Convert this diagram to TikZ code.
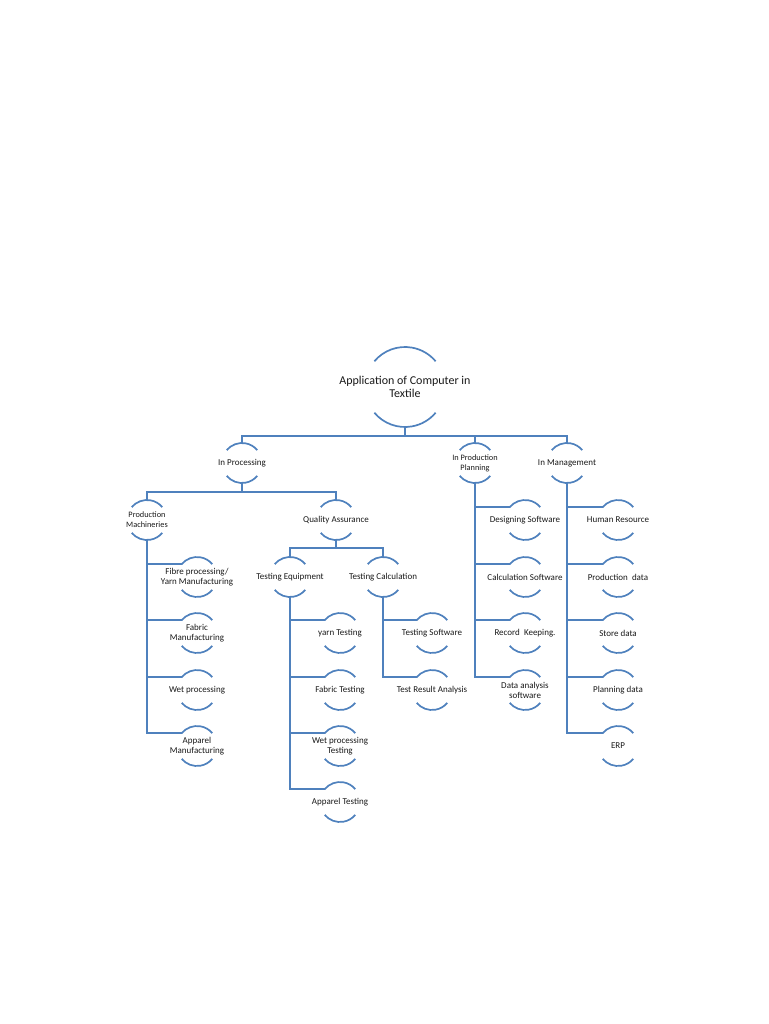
\documentclass[tikz,border=0pt]{standalone}
\usepackage{fontspec}
\setmainfont{Carlito}
\definecolor{blu}{HTML}{4F81BD}
\begin{document}
\begin{tikzpicture}[x=1pt, y=1pt, line width=1.7pt,
    linea/.style={draw=blu},
    bolla/.style={circle, minimum size=40pt, inner sep=0pt, outer sep=0pt},
    grande/.style={bolla, minimum size=80pt},
    testo/.style={align=center, font=\fontsize{9}{10}\selectfont, text=black!90},
    piccolo/.style={testo, font=\fontsize{8.3}{10}\selectfont}]

    \useasboundingbox (0,0) rectangle (768,-1024);

    % archi sopra e sotto ogni voce
    \newcommand{\archi}[2]{
        \draw[linea] (#1.140) arc[start angle=140, end angle=40, radius=#2];
        \draw[linea] (#1.220) arc[start angle=220, end angle=320, radius=#2];
    }

    % -- Titolo --
    \node[grande, label={[testo, font=\fontsize{12}{12.5}\selectfont]center:Application of Computer in\\Textile}] (tit) at (405,-387) {};

    % -- Primo livello --
    \node[bolla, label={[testo]center:In Processing}] (proc) at (242,-463) {};
    \node[bolla, label={[piccolo]center:In Production\\Planning}] (plan) at (475,-463) {};
    \node[bolla, label={[testo]center:In Management}] (mgmt) at (567,-463) {};

    % -- In Processing --
    \node[bolla, label={[piccolo]center:Production\\Machineries}] (mach) at (147,-520) {};
    \node[bolla, label={[testo]center:Quality Assurance}] (qa) at (336,-520) {};
    \node[bolla, label={[testo]center:Testing Equipment}] (teq) at (290,-577) {};
    \node[bolla, label={[testo]center:Testing Calculation}] (tcal) at (383,-577) {};

    \node[bolla, label={[testo]center:Fibre processing/\\Yarn Manufacturing}] (fibre) at (197,-577) {};
    \node[bolla, label={[testo]center:Fabric\\Manufacturing}] (fabric) at (197,-633) {};
    \node[bolla, label={[testo]center:Wet processing}] (wet) at (197,-690) {};
    \node[bolla, label={[testo]center:Apparel\\Manufacturing}] (appar) at (197,-746) {};

    \node[bolla, label={[testo]center:yarn Testing}] (yarn) at (340,-633) {};
    \node[bolla, label={[testo]center:Fabric Testing}] (ftest) at (340,-690) {};
    \node[bolla, label={[testo]center:Wet processing\\Testing}] (wtest) at (340,-746) {};
    \node[bolla, label={[testo]center:Apparel Testing}] (atest) at (340,-802) {};

    \node[bolla, label={[testo]center:Testing Software}] (tsoft) at (432,-633) {};
    \node[bolla, label={[testo]center:Test Result Analysis}] (tres) at (432,-690) {};

    % -- In Production Planning --
    \node[bolla, label={[testo]center:Designing Software}] (design) at (525,-520) {};
    \node[bolla, label={[testo]center:Calculation Software}] (calc) at (525,-577) {};
    \node[bolla, label={[testo]center:Record~ Keeping.}] (record) at (525,-633) {};
    \node[bolla, label={[testo]center:Data analysis\\software}] (dsoft) at (525,-690) {};

    % -- In Management --
    \node[bolla, label={[testo]center:Human Resource}] (hr) at (618,-520) {};
    \node[bolla, label={[testo]center:Production~ data}] (pdata) at (618,-577) {};
    \node[bolla, label={[testo]center:Store data}] (sdata) at (618,-633) {};
    \node[bolla, label={[testo]center:Planning data}] (pldata) at (618,-690) {};
    \node[bolla, label={[testo]center:ERP}] (erp) at (618,-746) {};

    \archi{tit}{40}
    \foreach \n in {proc,plan,mgmt,mach,qa,teq,tcal,fibre,fabric,wet,appar,
                    yarn,ftest,wtest,atest,tsoft,tres,design,calc,record,dsoft,
                    hr,pdata,sdata,pldata,erp}
        {\archi{\n}{20}}

    % -- Collegamenti --
    \draw[linea] (tit.south) -- ++(0,-9) coordinate (b0);
    \foreach \n in {proc,plan,mgmt}
        \draw[linea] (b0) -| (\n.north);

    \draw[linea] (proc.south) -- ++(0,-9) coordinate (b1);
    \foreach \n in {mach,qa}
        \draw[linea] (b1) -| (\n.north);

    \draw[linea] (qa.south) -- ++(0,-8) coordinate (b2);
    \foreach \n in {teq,tcal}
        \draw[linea] (b2) -| (\n.north);

    % rami laterali
    \foreach \n in {fibre,fabric,wet,appar}
        \draw[linea] (mach.south) |- (\n.140);
    \foreach \n in {yarn,ftest,wtest,atest}
        \draw[linea] (teq.south) |- (\n.140);
    \foreach \n in {tsoft,tres}
        \draw[linea] (tcal.south) |- (\n.140);
    \foreach \n in {design,calc,record,dsoft}
        \draw[linea] (plan.south) |- (\n.140);
    \foreach \n in {hr,pdata,sdata,pldata,erp}
        \draw[linea] (mgmt.south) |- (\n.140);

\end{tikzpicture}
\end{document}
